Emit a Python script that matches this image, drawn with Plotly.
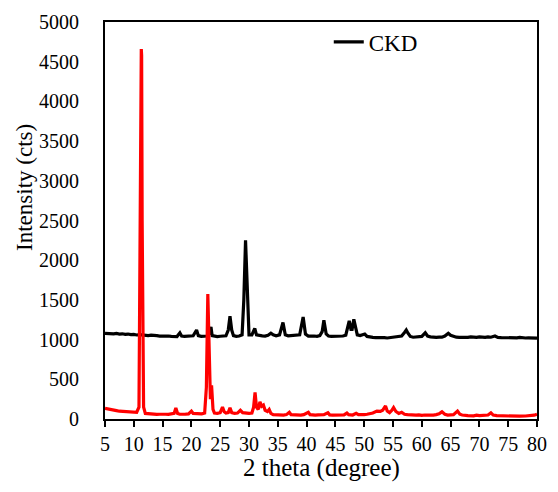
import plotly.graph_objects as go

# Red pattern (2 theta, intensity)
red_x = [5.0, 5.5, 6.0, 6.5, 7.0, 7.5, 8.0, 8.5, 9.0, 9.5, 10.0, 10.5, 10.9, 11.15, 11.24, 11.3, 11.36, 11.45, 11.7,
         12.0, 12.5, 13.0, 13.5, 14.0, 14.5, 15.0, 15.5, 16.0, 16.5, 17.0, 17.3, 17.6, 18.0, 18.5, 19.0,
         19.5, 20.0, 20.3, 20.8, 21.3, 21.8, 22.3, 22.6, 22.85, 23.1, 23.3, 23.5, 23.75, 24.0, 24.5, 25.0,
         25.4, 25.7, 26.0, 26.4, 26.7, 27.0, 27.5, 28.0, 28.5, 28.9, 29.5, 30.0, 30.5, 30.8, 31.05, 31.3,
         31.6, 31.9, 32.2, 32.5, 32.8, 33.2, 33.5, 33.8, 34.2, 35.0, 35.5, 36.0, 36.5, 37.0, 37.3, 38.0,
         38.5, 39.0, 39.5, 40.3, 40.6, 41.0, 41.5, 42.0, 42.5, 43.0, 43.7, 44.0, 44.5, 45.0, 45.5, 46.0,
         46.5, 47.0, 47.3, 48.0, 48.6, 49.0, 49.5, 50.0, 50.5, 51.0, 51.5, 52.2, 52.8, 53.2, 53.7, 54.0,
         54.4, 54.8, 55.1, 55.5, 56.0, 56.5, 57.0, 57.5, 58.0, 59.0, 59.5, 60.0, 60.5, 61.0, 61.5, 62.0,
         62.5, 63.0, 63.5, 64.0, 64.5, 65.0, 65.5, 66.2, 66.6, 67.0, 67.5, 68.0, 69.0, 69.5, 70.0, 70.5,
         71.0, 71.5, 72.0, 72.4, 73.0, 73.5, 74.0, 75.0, 75.5, 76.0, 77.0, 78.0, 79.0, 79.5, 80.0]
red_y = [135, 125, 118, 110, 105, 98, 95, 90, 88, 85, 82, 85, 150, 2500, 4580, 4660, 4580, 2500, 150,
         70, 65, 60, 62, 58, 60, 55, 60, 58, 62, 70, 140, 70, 60, 58, 62,
         65, 100, 70, 65, 62, 65, 75, 400, 1575, 600, 250, 425, 120, 75, 70, 80,
         150, 90, 75, 80, 140, 80, 70, 75, 110, 80, 70, 70, 75, 150, 335, 150,
         120, 215, 160, 175, 110, 95, 120, 70, 55, 50, 55, 48, 55, 85, 55, 50,
         52, 48, 55, 85, 55, 50, 48, 52, 50, 55, 78, 52, 48, 50, 55, 50,
         52, 75, 55, 50, 72, 55, 52, 55, 60, 65, 75, 100, 95, 110, 165, 100,
         80, 110, 145, 95, 70, 85, 60, 55, 50, 48, 52, 45, 50, 48, 45, 50,
         55, 65, 90, 60, 50, 48, 55, 100, 60, 50, 45, 42, 40, 48, 42, 45,
         40, 50, 78, 50, 42, 40, 38, 40, 35, 38, 35, 38, 40, 48, 60]

# CKD pattern (2 theta, intensity)
ckd_x = [5.0, 5.5, 6.0, 6.5, 7.0, 7.5, 8.0, 8.5, 9.0, 9.5, 10.0, 10.5, 11.0, 11.5, 12.0, 12.5, 13.0,
         13.5, 14.0, 14.5, 15.0, 15.5, 16.0, 16.5, 17.0, 17.5, 18.0, 18.3, 18.8, 19.3, 19.8, 20.3, 20.9,
         21.2, 21.7, 22.2, 22.7, 23.2, 23.4, 23.6, 24.0, 24.5, 25.0, 25.5, 26.0, 26.4, 26.7, 27.0, 27.3,
         27.8, 28.3, 28.8, 29.1, 29.4, 29.7, 30.0, 30.5, 31.0, 31.3, 31.8, 32.3, 32.8, 33.3, 33.8, 34.2,
         34.7, 35.3, 35.9, 36.3, 36.8, 37.3, 37.8, 38.3, 38.8, 39.4, 39.8, 40.3, 40.8, 41.3, 41.8, 42.3,
         42.7, 43.0, 43.4, 43.8, 44.3, 44.8, 45.3, 45.8, 46.3, 46.8, 47.1, 47.4, 47.7, 47.9, 48.2, 48.5,
         48.8, 49.3, 49.7, 50.1, 50.5, 51.0, 51.5, 52.0, 52.5, 53.0, 53.5, 54.0, 54.5, 55.0, 55.5, 56.0,
         56.5, 57.0, 57.3, 57.6, 58.0, 58.5, 59.0, 59.5, 60.0, 60.6, 61.0, 61.5, 62.0, 62.5, 63.0, 63.5,
         64.0, 64.6, 65.0, 65.5, 66.0, 66.5, 67.0, 67.5, 68.0, 68.5, 69.0, 69.5, 70.0, 70.5, 71.0, 71.5,
         72.0, 72.7, 73.2, 73.8, 74.5, 75.0, 75.5, 76.0, 76.5, 77.0, 77.5, 78.0, 78.5, 79.0, 79.5, 80.0]
ckd_y = [1078, 1075, 1082, 1072, 1078, 1070, 1073, 1066, 1070, 1062, 1065, 1058, 1062, 1055, 1058, 1050, 1055,
         1048, 1050, 1045, 1048, 1042, 1045, 1040, 1042, 1038, 1085, 1045, 1040, 1045, 1040, 1048, 1120,
         1050, 1042, 1040, 1045, 1080, 1160, 1050, 1040, 1038, 1042, 1040, 1048, 1120, 1295, 1120, 1050,
         1042, 1045, 1060, 1500, 2250, 1500, 1060, 1060, 1140, 1060, 1050, 1048, 1045, 1055, 1080, 1060,
         1048, 1060, 1215, 1060, 1048, 1050, 1055, 1048, 1060, 1285, 1070, 1045, 1040, 1045, 1042, 1050,
         1100, 1243, 1070, 1045, 1040, 1042, 1038, 1040, 1045, 1055, 1150, 1235, 1130, 1130, 1255, 1130,
         1060, 1050, 1055, 1070, 1040, 1030, 1028, 1025, 1028, 1022, 1025, 1020, 1025, 1022, 1028, 1035,
         1045, 1090, 1120, 1080, 1040, 1030, 1032, 1028, 1040, 1085, 1045, 1035, 1030, 1028, 1032, 1030,
         1045, 1080, 1055, 1040, 1030, 1028, 1025, 1030, 1028, 1035, 1030, 1028, 1035, 1030, 1028, 1035,
         1030, 1045, 1028, 1025, 1022, 1025, 1020, 1025, 1022, 1028, 1022, 1020, 1022, 1018, 1020, 1018]

x_ticks = [5, 10, 15, 20, 25, 30, 35, 40, 45, 50, 55, 60, 65, 70, 75, 80]
y_ticks = [0, 500, 1000, 1500, 2000, 2500, 3000, 3500, 4000, 4500, 5000]

FONT = "Liberation Serif"

fig = go.Figure()
fig.add_trace(go.Scatter(x=ckd_x, y=ckd_y, mode="lines", name="CKD",
                         line=dict(color="black", width=3.2)))
fig.add_trace(go.Scatter(x=red_x, y=red_y, mode="lines", name="Sample", showlegend=False,
                         line=dict(color="#ff0000", width=3.2)))

fig.update_layout(
    width=558, height=492,
    margin=dict(l=105, r=11, t=15, b=73),
    paper_bgcolor="white", plot_bgcolor="white",
    font=dict(family=FONT, size=20, color="black"),
    showlegend=True,
    legend=dict(x=0.518, y=0.95, xanchor="left", yanchor="middle",
                bgcolor="rgba(0,0,0,0)", font=dict(family=FONT, size=23, color="black")),
    xaxis=dict(range=[5, 80], tickvals=x_ticks, ticktext=[str(v) for v in x_ticks],
               showgrid=False, zeroline=False, showline=True, linecolor="black", linewidth=2,
               mirror=True, ticks="outside", ticklen=6, tickwidth=2, tickcolor="black",
               tickfont=dict(family=FONT, size=20, color="black")),
    yaxis=dict(range=[0, 5000], tickvals=y_ticks, ticktext=[str(v) for v in y_ticks],
               showgrid=False, zeroline=False, showline=True, linecolor="black", linewidth=2,
               mirror=True, ticks="", ticklabelstandoff=20,
               tickfont=dict(family=FONT, size=20, color="black")),
    annotations=[
        dict(text="2 theta (degree)", xref="paper", yref="paper", x=0.5, y=-(469 - 419) / 404,
             xanchor="center", yanchor="middle", showarrow=False,
             font=dict(family=FONT, size=25, color="black")),
        dict(text="Intensity (cts)", xref="paper", yref="paper", x=-(105 - 22) / 442, y=(419 - 183) / 404,
             xanchor="center", yanchor="middle", textangle=-90, showarrow=False,
             font=dict(family=FONT, size=23, color="black")),
    ],
)

fig.write_html("out.html", post_script="document.body.style.margin='0';",
               config={"displayModeBar": False})
